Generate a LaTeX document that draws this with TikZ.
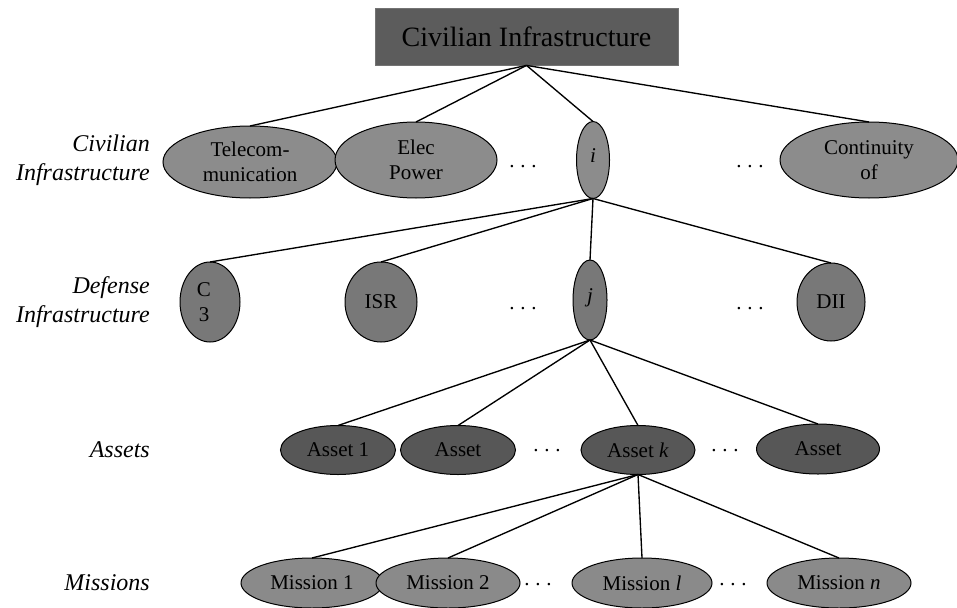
\documentclass[tikz,border=0pt]{standalone}
\usepackage{fontspec}
\setmainfont{Liberation Serif}
\usetikzlibrary{shapes.geometric}
\definecolor{topfill}{gray}{0.36}
\definecolor{civfill}{gray}{0.55}
\definecolor{deffill}{gray}{0.47}
\definecolor{assfill}{gray}{0.34}
\definecolor{misfill}{gray}{0.54}
\newcommand{\mydots}{.\kern5.8pt.\kern5.8pt.}
\begin{document}
\begin{tikzpicture}[x=1pt,y=-1pt,
  ell/.style={ellipse, draw=black, line width=1pt, inner sep=0pt, outer sep=0pt, align=center,
    font=\fontsize{21}{25}\selectfont},
  civ/.style={ell, fill=civfill},
  dfn/.style={ell, fill=deffill},
  ass/.style={ell, fill=assfill},
  mis/.style={ell, fill=misfill},
  conn/.style={draw=black, line width=1.35pt},
  lab/.style={anchor=east, align=right, inner sep=0pt, font=\fontsize{24}{29}\selectfont\itshape},
  dotsn/.style={anchor=base, inner sep=0pt, font=\fontsize{21}{25}\selectfont}
]
\useasboundingbox (0,0) rectangle (957,607);
\fill[white] (0,0) rectangle (957,607);

% top box
\node[draw=black!55, line width=0.8pt, fill=topfill, minimum width=303pt, minimum height=57pt,
  inner sep=0pt, font=\fontsize{28}{32}\selectfont] (top) at (526.5,36.5) {Civilian Infrastructure};

% level labels
\node[lab] (lciv) at (150,160) {Civilian\\Infrastructure};
\node[lab] (ldef) at (150,302) {Defense\\Infrastructure};
\node[lab] (lass) at (150,450) {Assets};
\node[lab] (lmis) at (150,583) {Missions};

% civilian row
\node[civ, minimum width=174pt, minimum height=72pt] (tel) at (250,162) {Telecom-\\munication};
\node[civ, minimum width=162pt, minimum height=76pt] (elec) at (416,160) {Elec\\Power};
\node[dotsn] (cd1) at (523,167) {\mydots};
\node[civ, minimum width=33pt, minimum height=77pt] (ci) at (593,160) {\raisebox{9pt}{\itshape i}};
\node[dotsn] (cd2) at (750,167) {\mydots};
\node[civ, minimum width=178pt, minimum height=76pt] (cont) at (869,160) {Continuity\\of};

% defense row
\node[dfn, minimum width=60pt, minimum height=80pt] (c3) at (210,302) {\hspace*{-12pt}C\\\hspace*{-12pt}3};
\node[dfn, minimum width=72pt, minimum height=80pt] (isr) at (381,302) {ISR};
\node[dotsn] (dd1) at (523,309) {\mydots};
\node[dfn, minimum width=34pt, minimum height=80pt] (dj) at (590,300) {\raisebox{9pt}{\itshape j}};
\node[dotsn] (dd2) at (750,309) {\mydots};
\node[dfn, minimum width=68pt, minimum height=78pt] (dii) at (831,302) {DII};

% assets row
\node[ass, minimum width=115pt, minimum height=49pt] (a1) at (338,450) {Asset 1};
\node[ass, minimum width=115pt, minimum height=49pt] (a2) at (458,450) {Asset};
\node[dotsn] (ad1) at (547,451) {\mydots};
\node[ass, minimum width=114pt, minimum height=49pt] (ak) at (638,450) {Asset \textit{k}};
\node[dotsn] (ad2) at (725,451) {\mydots};
\node[ass, minimum width=123pt, minimum height=50pt] (a4) at (818,449) {Asset};

% missions row
\node[mis, minimum width=142pt, minimum height=50pt] (m1) at (312,583) {Mission 1};
\node[mis, minimum width=144pt, minimum height=50pt] (m2) at (448,583) {Mission 2};
\node[dotsn] (md1) at (538,585) {\mydots};
\node[mis, minimum width=140pt, minimum height=50pt] (ml) at (642,583) {Mission \textit{l}};
\node[dotsn] (md2) at (733,585) {\mydots};
\node[mis, minimum width=144pt, minimum height=50pt] (mn) at (839,583) {Mission \textit{n}};

% connectors
\foreach \c in {tel,elec,ci,cont} \draw[conn] (top.south) -- (\c.north);
\foreach \c in {c3,isr,dj,dii} \draw[conn] (ci.south) -- (\c.north);
\foreach \c in {a1,a2,ak,a4} \draw[conn] (dj.south) -- (\c.north);
\foreach \c in {m1,m2,ml,mn} \draw[conn] (ak.south) -- (\c.north);
\end{tikzpicture}
\end{document}
